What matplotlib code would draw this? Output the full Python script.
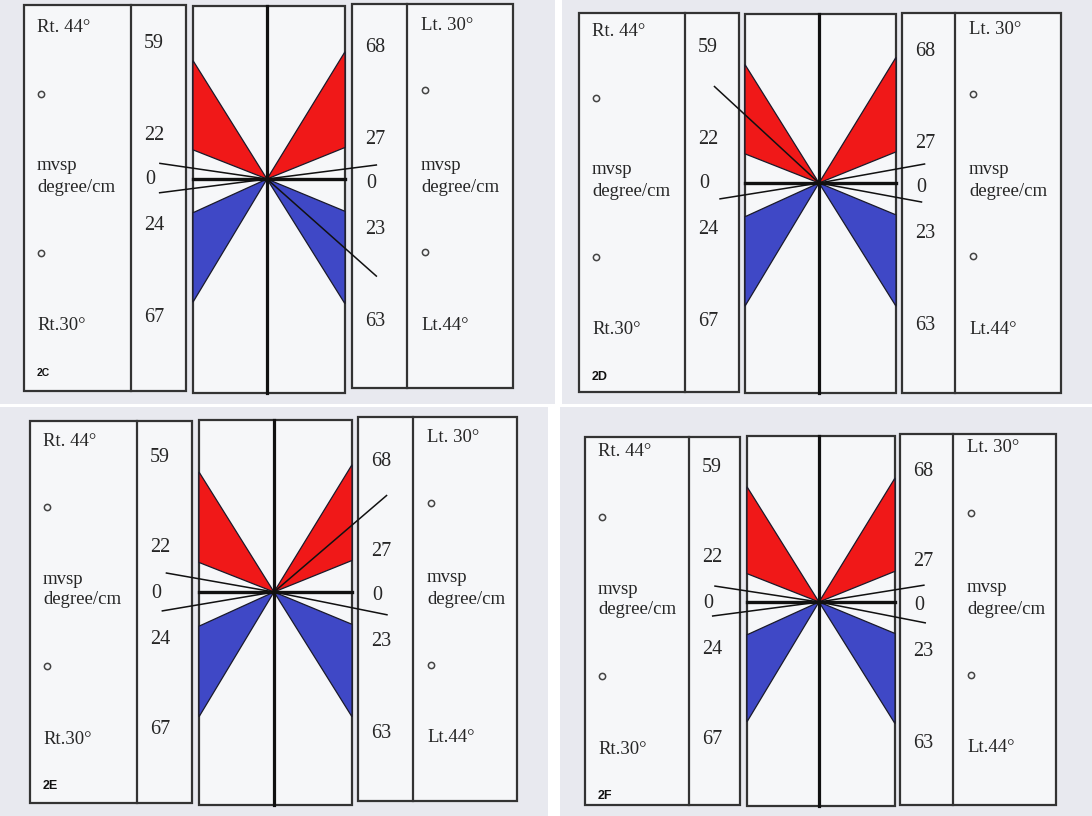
"""
Four-panel mvsp diagrams (2C-2F): scale columns, red/blue reference wedges
and black measured vectors from the centre point.
"""

import numpy as np
import matplotlib

matplotlib.use("Agg")
import matplotlib.pyplot as plt
from matplotlib.patches import Polygon, Rectangle


# ---- data -----------------------------------------------------------------
panel_ids = ["2C", "2D", "2E", "2F"]

left_labels = ["Rt. 44\u00b0", "mvsp", "degree/cm", "Rt.30\u00b0"]
right_labels = ["Lt. 30\u00b0", "mvsp", "degree/cm", "Lt.44\u00b0"]
left_scale = ["59", "22", "0", "24", "67"]
right_scale = ["68", "27", "0", "23", "63"]

# reference wedges: edge angles (degrees from horizontal, as drawn)
red_left_deg = [58.0, 21.5]
red_right_deg = [58.5, 22.0]
blue_left_deg = [24.5, 59.0]
blue_right_deg = [22.5, 58.0]

# measured vectors per panel: angle (deg, + is up) and length (px)
left_upper_deg = [8.3, 42.7, 10.0, 8.7]
left_upper_len = [109, 143, 110, 106]
left_lower_deg = [-7.3, -9.1, -9.6, -7.5]
left_lower_len = [109, 101, 114, 108]
right_upper_deg = [7.3, 10.2, 40.6, 9.1]
right_upper_len = [111, 108, 149, 107]
right_lower_deg = [-41.6, -10.5, -11.4, -11.1]
right_lower_len = [147, 105, 116, 109]

# ---- layout (pixels) ------------------------------------------------------
# background tile of each scanned panel
tiles = [(0, 0, 555, 404), (562, 0, 1092, 404), (0, 407, 548, 816), (560, 407, 1092, 816)]
# left box: x0, x1, divider, y0, y1
left_box = [(24, 186, 131, 5, 391), (579, 739, 685, 13, 392),
            (30, 192, 137, 421, 803), (585, 740, 689, 437, 805)]
# centre box: x0, x1, centre x, y0, y1
centre_box = [(193, 345, 267, 6, 393), (745, 896, 819, 14, 393),
              (199, 352, 274, 420, 805), (747, 895, 819, 436, 806)]
right_box = [(352, 513, 407, 4, 388), (902, 1061, 955, 13, 393),
             (358, 517, 413, 417, 801), (900, 1056, 953, 434, 805)]
centre_y = [179, 183, 592, 602]
id_size = [7.5, 9, 9, 9]

BG = "#e8e9ef"
BOX_BG = "#f6f7f9"
EDGE = "#333333"
TXT = "#262626"
RED = "#f01818"
BLUE = "#3f48c6"
SERIF = ["Liberation Serif", "DejaVu Serif"]

fig = plt.figure(figsize=(10.92, 8.16), dpi=100)
ax = fig.add_axes([0, 0, 1, 1])
ax.set_xlim(0, 1092)
ax.set_ylim(816, 0)
ax.axis("off")


def box(x0, x1, y0, y1, lw=1.6):
    ax.add_patch(Rectangle((x0, y0), x1 - x0, y1 - y0, facecolor=BOX_BG,
                           edgecolor=EDGE, linewidth=lw, zorder=1))


def label(x, y, s, size, ha="left"):
    ax.text(x, y, s, fontsize=size, family=SERIF, color=TXT, ha=ha, va="center",
            zorder=6)


for i, pid in enumerate(panel_ids):
    tx0, ty0, tx1, ty1 = tiles[i]
    ax.add_patch(Rectangle((tx0, ty0), tx1 - tx0, ty1 - ty0, facecolor=BG,
                           edgecolor="none", zorder=0))

    lx0, lx1, ldiv, ly0, ly1 = left_box[i]
    cx0, cx1, cx, cy0, cy1 = centre_box[i]
    rx0, rx1, rdiv, ry0, ry1 = right_box[i]
    cy = centre_y[i]

    box(lx0, lx1, ly0, ly1)
    ax.plot([ldiv, ldiv], [ly0, ly1], color=EDGE, lw=1.6, zorder=2)
    box(cx0, cx1, cy0, cy1)
    box(rx0, rx1, ry0, ry1)
    ax.plot([rdiv, rdiv], [ry0, ry1], color=EDGE, lw=1.6, zorder=2)

    # reference wedges
    for xe, degs, color, sign in [
        (cx0, red_left_deg, RED, 1), (cx1, red_right_deg, RED, 1),
        (cx0, blue_left_deg, BLUE, -1), (cx1, blue_right_deg, BLUE, -1),
    ]:
        d = abs(xe - cx)
        ya = cy - sign * np.tan(np.radians(degs[0])) * d
        yb = cy - sign * np.tan(np.radians(degs[1])) * d
        ax.add_patch(Polygon([(cx, cy), (xe, ya), (xe, yb)], closed=True,
                             facecolor=color, edgecolor="#1a1a2a", linewidth=0.9,
                             zorder=3))

    # axes of the diagram
    ax.plot([cx, cx], [cy0, cy1], color="#111111", lw=2.3, zorder=4)
    ax.plot([cx0, cx1], [cy, cy], color="#111111", lw=2.4, zorder=4)

    # measured vectors
    for deg, length, side in [
        (left_upper_deg[i], left_upper_len[i], -1),
        (left_lower_deg[i], left_lower_len[i], -1),
        (right_upper_deg[i], right_upper_len[i], 1),
        (right_lower_deg[i], right_lower_len[i], 1),
    ]:
        ex = cx + side * np.cos(np.radians(deg)) * length
        ey = cy - np.sin(np.radians(deg)) * length
        ax.plot([cx, ex], [cy, ey], color="#111111", lw=1.1, zorder=5,
                solid_capstyle="butt")

    # left label column
    for lab, off in zip(left_labels, [-151, -13, 8, 147]):
        label(lx0 + 13, cy + off, lab, 13.5)
    ax.plot([lx0 + 17, lx0 + 17], [cy - 85, cy + 74], linestyle="none", marker="o",
            markersize=4.5, mfc="none", mec="#444444", mew=1.1, zorder=6)
    ax.text(lx0 + 13, cy + 194, pid, fontsize=id_size[i],
            family=["Liberation Sans", "DejaVu Sans"], fontweight="bold",
            color="#111111", ha="left", va="center", zorder=6)

    # scale numbers
    for lab, off in zip(left_scale, [-135, -44, 1, 47, 138]):
        x = ldiv + 23 if lab != "0" else ldiv + 19
        label(x, cy + off, lab, 14.5, ha="center")
    for lab, off in zip(right_scale, [-131, -40, 4, 50, 142]):
        x = rx0 + 23 if lab != "0" else rx0 + 19
        label(x, cy + off, lab, 14.5, ha="center")

    # right label column
    for lab, off in zip(right_labels, [-154, -14, 8, 146]):
        label(rdiv + 14, cy + off, lab, 13.5)
    ax.plot([rdiv + 18, rdiv + 18], [cy - 89, cy + 73], linestyle="none", marker="o",
            markersize=4.5, mfc="none", mec="#444444", mew=1.1, zorder=6)

fig.savefig("out.png", dpi=100, facecolor="white")
